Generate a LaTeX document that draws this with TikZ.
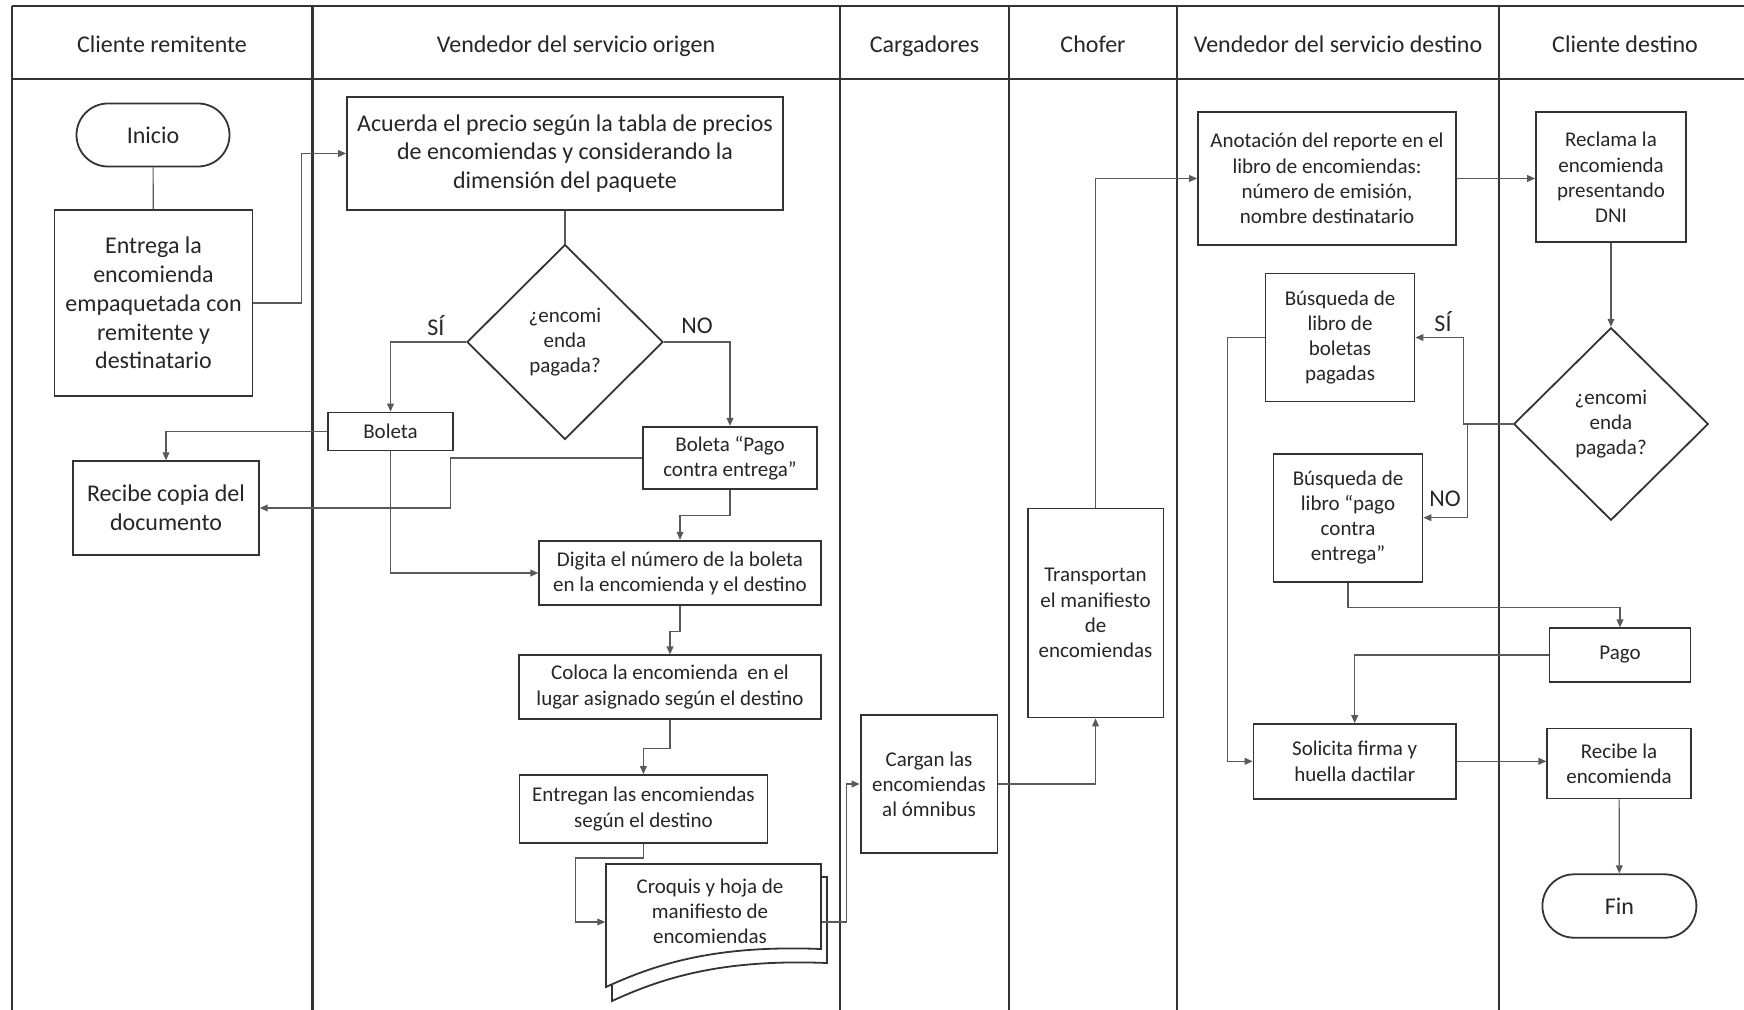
\documentclass[tikz,border=0pt]{standalone}
\usepackage{fontspec}
\setmainfont{Carlito}
\usetikzlibrary{arrows.meta,shapes.geometric,shapes.misc}

\tikzset{every picture/.style={line width=0.75pt}}
\tikzset{
  lane/.style={draw=black!80, line width=1.2pt},
  big/.style={font=\fontsize{12}{14.4}\selectfont},
  small/.style={font=\fontsize{10.5}{12.6}\selectfont},
  box/.style={draw=black!80, line width=0.9pt, fill=white, align=center, inner sep=1pt, text=black!85},
  terminal/.style={box, big, rounded rectangle},
  decision/.style={box, small, diamond, inner sep=0pt},
  sheet/.style={draw=black!80, line width=0.9pt, fill=white},
  flow/.style={draw=black!65, line width=0.6pt, -{Triangle[length=4pt,width=3.4pt]}},
  link/.style={draw=black!65, line width=0.6pt},
  lanetitle/.style={big, text=black!85, inner sep=0.75pt, text height=8.6pt, text depth=2.6pt},
  answer/.style={big, text=black!85, inner sep=0.75pt},
}

\begin{document}
\begin{tikzpicture}[x=0.5pt,y=0.5pt,yscale=-1,xscale=1]
\useasboundingbox (0,0) rectangle (1744,1010);

%Straight Lines (swimlanes)
\draw [lane] (12,6) -- (1744,6) ;
\draw [lane] (12,79) -- (1744,79) ;
\draw [lane] (12,6) -- (12,1010) ;
\draw [lane] (312.5,6) -- (312.5,1010) ;
\draw [lane] (840,6) -- (840,1010) ;
\draw [lane] (1009,6) -- (1009,1010) ;
\draw [lane] (1177,6) -- (1177,1010) ;
\draw [lane] (1499,6) -- (1499,1010) ;

% Text Node
\draw (162,46.5) node [lanetitle] (h1) {Cliente remitente};
% Text Node
\draw (576,46.5) node [lanetitle] (h2) {Vendedor del servicio origen};
% Text Node
\draw (924.5,46.5) node [lanetitle] (h3) {Cargadores};
% Text Node
\draw (1093,46.5) node [lanetitle] (h4) {Chofer};
% Text Node
\draw (1338,46.5) node [lanetitle] (h5) {Vendedor del servicio destino};
% Text Node
\draw (1625,46.5) node [lanetitle] (h6) {Cliente destino};

%Shape: Terminal
\draw (153,135) node [terminal, minimum width=78.5pt, minimum height=31.5pt] (inicio) {Inicio};
%Shape: Rectangle
\draw (153.5,303) node [box, big, minimum width=99pt, minimum height=93pt] (entrega) {Entrega la\\encomienda\\empaquetada con\\remitente y\\destinatario};
%Shape: Rectangle
\draw (565,153.5) node [box, big, minimum width=218pt, minimum height=56.5pt] (acuerda) {Acuerda el precio según la tabla de precios\\de encomiendas y considerando la\\dimensión del paquete};
%Shape: Diamond
\draw (565,342) node [decision, minimum width=98pt, minimum height=97.5pt] (dec1) {¿encomi\\enda\\pagada?};
%Shape: Rectangle
\draw (390.5,431.5) node [box, small, minimum width=62.3pt, minimum height=19pt] (boleta) {Boleta};
%Shape: Rectangle
\draw (730,458) node [box, small, minimum width=87.3pt, minimum height=31.2pt] (boletapce) {Boleta “Pago\\contra entrega”};
%Shape: Rectangle
\draw (166,508) node [box, big, minimum width=92.8pt, minimum height=46.7pt] (recibecopia) {Recibe copia del\\documento};
%Shape: Rectangle
\draw (680,573) node [box, small, minimum width=140.7pt, minimum height=32.3pt] (digita) {Digita el número de la boleta\\en la encomienda y el destino};
%Shape: Rectangle
\draw (670,687) node [box, small, minimum width=150.7pt, minimum height=31.7pt] (coloca) {Coloca la encomienda\ \ en el\\lugar asignado según el destino};
%Shape: Rectangle
\draw (643.4,809) node [box, small, minimum width=124pt, minimum height=34pt] (entregan) {Entregan las encomiendas\\según el destino};

%Shape: Multiple Documents
\draw [sheet] (612,877) -- (827,877) -- (827,963) .. controls (726,959) and (666,976) .. (612,1001) -- cycle ;
\draw [sheet] (606,864) -- (821,864) -- (821,949) .. controls (720,945) and (660,962) .. (606,987) -- cycle ;
\draw (713.5,922) node [minimum width=107.5pt, minimum height=58pt, inner sep=0pt] (croquis) {};
% Text Node
\draw (710,911) node [small, align=center, text=black!85, inner sep=0.75pt] (croquistxt) {Croquis y hoja de\\manifiesto de\\encomiendas};

%Shape: Rectangle
\draw (929,784) node [box, small, minimum width=68.4pt, minimum height=69pt] (cargan) {Cargan las\\encomiendas\\al ómnibus};
%Shape: Rectangle
\draw (1095.5,613) node [box, small, minimum width=67.9pt, minimum height=104.5pt] (transportan) {Transportan\\el manifiesto\\de\\encomiendas};
%Shape: Rectangle
\draw (1327,178.5) node [box, small, minimum width=129pt, minimum height=66.2pt] (anotacion) {Anotación del reporte en el\\libro de encomiendas:\\número de emisión,\\nombre destinatario};
%Shape: Rectangle
\draw (1611,177.4) node [box, small, minimum width=75pt, minimum height=65pt] (reclama) {Reclama la\\encomienda\\presentando\\DNI};
%Shape: Diamond
\draw (1611,424) node [decision, minimum width=97.3pt, minimum height=96.3pt] (dec2) {¿encomi\\enda\\pagada?};
%Shape: Rectangle
\draw (1340,337.5) node [box, small, minimum width=74.5pt, minimum height=64pt] (busqboletas) {Búsqueda de\\libro de\\boletas\\pagadas};
%Shape: Rectangle
\draw (1348,517.7) node [box, small, minimum width=74.5pt, minimum height=64pt] (busqpce) {Búsqueda de\\libro “pago\\contra\\entrega”};
%Shape: Rectangle
\draw (1620,655) node [box, small, minimum width=70.5pt, minimum height=26.7pt] (pago) {Pago};
%Shape: Rectangle
\draw (1354.7,761.3) node [box, small, minimum width=101.2pt, minimum height=37.3pt] (solicita) {Solicita firma y\\huella dactilar};
%Shape: Rectangle
\draw (1619,763.5) node [box, small, minimum width=71.7pt, minimum height=35pt] (recibe) {Recibe la\\encomienda};
%Shape: Terminal
\draw (1619.4,906) node [terminal, minimum width=79pt, minimum height=31.7pt] (fin) {Fin};

% Text Node
\draw (436,326) node [answer] (si1) {SÍ};
% Text Node
\draw (697,326) node [answer] (no1) {NO};
% Text Node
\draw (1443,322) node [answer] (si2) {SÍ};
% Text Node
\draw (1445,499) node [answer] (no2) {NO};

%Connectors
\draw [link] (inicio) -- (entrega) ;
\draw [flow] (entrega.east) -- ++(48,0) |- (acuerda.west) ;
\draw [link] (acuerda) -- (dec1) ;
\draw [flow] (dec1.west) -| (boleta.north) ;
\draw [flow] (dec1.east) -| (boletapce.north) ;
\draw [flow] (boleta.west) -| (recibecopia.north) ;
\draw [flow] (boletapce.west) -- ++(-191.5,0) |- (recibecopia.east) ;
\draw [flow] (boleta.south) |- (digita.west) ;
\draw [flow] (boletapce.south) -- ++(0,25.6) -| (digita.north) ;
\draw [flow] (digita.south) -- ++(0,25.6) -| (coloca.north) ;
\draw [flow] (coloca.south) -- ++(0,29) -| (entregan.north) ;
\draw [flow] (entregan.south) -- ++(0,14) -- ++(-68,0) |- (croquis.west) ;
\draw [flow] (croquis.east) -- ++(25,0) |- (cargan.west) ;
\draw [flow] (cargan.east) -| (transportan.south) ;
\draw [flow] (transportan.north) |- (anotacion.west) ;
\draw [flow] (anotacion.east) -- (reclama.west |- anotacion.east) ;
\draw [flow] (reclama) -- (dec2) ;
\draw [flow] (dec2.west) -- ++(-49.7,0) |- (busqboletas.east) ;
\draw [flow] (dec2.west) -- ++(-45,0) |- (busqpce.east) ;
\draw [flow] (busqboletas.west) -- ++(-37,0) |- (solicita.west) ;
\draw [flow] (busqpce.south) -- ++(0,24.6) -| (pago.north) ;
\draw [flow] (pago.west) -| (solicita.north) ;
\draw [flow] (solicita.east) -- (recibe.west |- solicita.east) ;
\draw [flow] (recibe) -- (fin) ;

\end{tikzpicture}
\end{document}
